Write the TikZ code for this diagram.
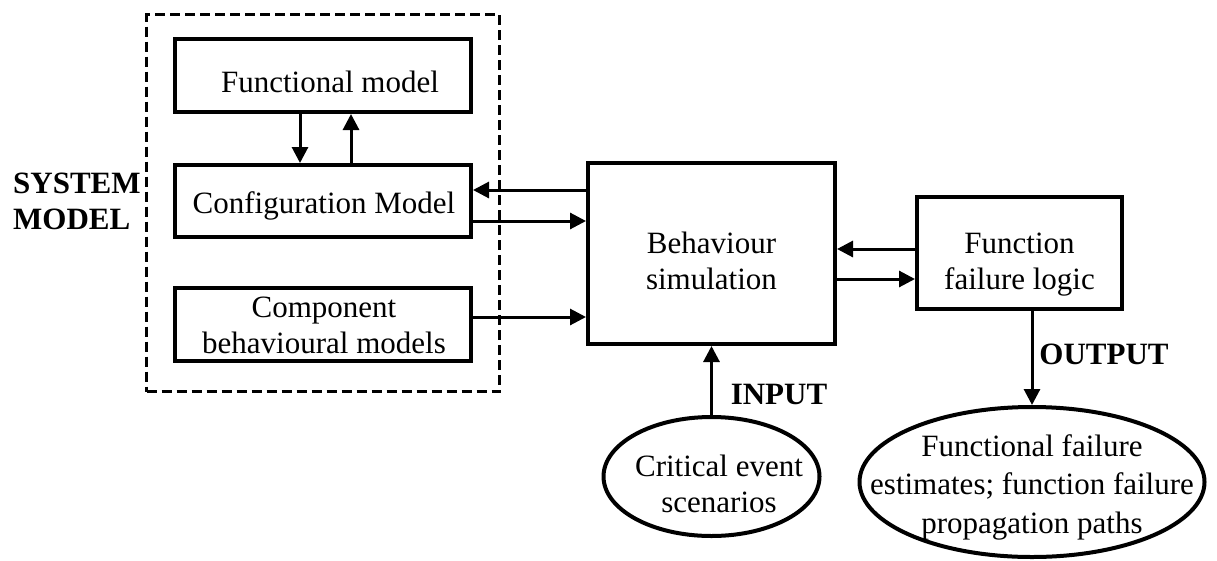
\documentclass[tikz,border=0pt]{standalone}
\usepackage{fontspec}
\setmainfont{Liberation Serif}
\usetikzlibrary{arrows.meta,shapes.geometric,calc}
\begin{document}
\begin{tikzpicture}[x=1pt,y=-1pt,
  txt/.style={font=\fontsize{31}{36}\selectfont, align=center, inner sep=0pt},
  blk/.style={draw, line width=4pt, inner sep=0pt},
  oval/.style={draw, ellipse, line width=4pt, inner sep=0pt},
  sysbox/.style={draw, line width=3.2pt, dash pattern=on 10pt off 5pt, inner sep=0pt},
  arr/.style={line width=3pt, -{Triangle[length=16pt,width=16pt]}},
  lbl/.style={font=\fontsize{31}{36}\selectfont\bfseries, inner sep=0pt}]
\useasboundingbox (0,0) rectangle (1217,560);

% system model frame and its three sub-models
\node[sysbox, minimum width=353pt, minimum height=377pt] (sys) at (323,203) {};
\node[blk, minimum width=296pt, minimum height=73pt] (func) at (323,75.5) {};
\node[blk, minimum width=296pt, minimum height=72pt] (conf) at (323,201) {};
\node[blk, minimum width=296pt, minimum height=73pt] (comp) at (323,324.5) {};
\node[txt] (funcT) at ($(func)+(7,6)$) {Functional model};
\node[txt] (confT) at ($(conf)+(1,5)$) {Configuration Model};
\node[txt] (compT) at ($(comp)+(1,0.5)$) {Component\\behavioural models};

% simulation and failure logic
\node[blk, minimum width=247pt, minimum height=181pt] (beh) at (711.5,253.5) {};
\node[blk, minimum width=205pt, minimum height=112pt] (ffl) at (1019.5,253) {};
\node[txt] (behT) at ($(beh)+(0,7)$) {Behaviour\\simulation};
\node[txt] (fflT) at ($(ffl)+(0,12)$) {Function\\failure logic};

% input and output ellipses
\node[oval, minimum width=216pt, minimum height=119pt] (crit) at (711.5,476.5) {};
\node[txt] (critT) at (719,484) {Critical event\\scenarios};
\node[oval, minimum width=345pt, minimum height=150pt] (out) at (1032,482) {};
\node[txt, font=\fontsize{31}{38.5}\selectfont] (outT) at (1032,487) {Functional failure\\estimates; function failure\\propagation paths};

% labels
\node[lbl, align=left, anchor=west] (sysl) at (13,201) {SYSTEM\\MODEL};
\node[lbl] (inl) at (779,394) {INPUT};
\node[lbl] (outl) at (1104,354) {OUTPUT};

% connectors
\draw[arr] (func.south -| 300,0) -- (conf.north -| 300,0);
\draw[arr] (conf.north -| 351,0) -- (func.south -| 351,0);
\draw[arr] (beh.west |- 0,190) -- (conf.east |- 0,190);
\draw[arr] (conf.east |- 0,221) -- (beh.west |- 0,221);
\draw[arr] (comp.east |- 0,317) -- (beh.west |- 0,317);
\draw[arr] (ffl.west |- 0,249) -- (beh.east |- 0,249);
\draw[arr] (beh.east |- 0,279) -- (ffl.west |- 0,279);
\draw[arr] (crit.north) -- (beh.south);
\draw[arr] (ffl.south -| out.north) -- (out.north);
\end{tikzpicture}
\end{document}
